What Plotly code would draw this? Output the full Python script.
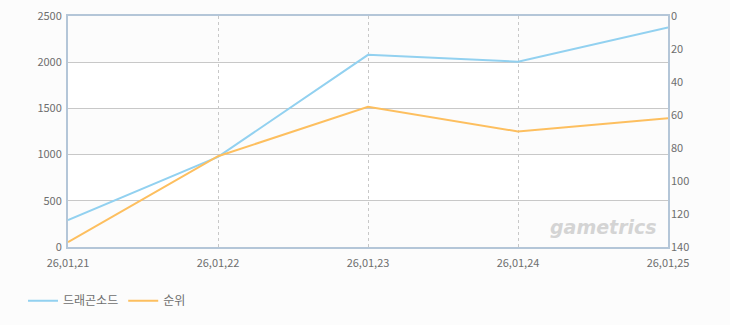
import plotly.graph_objects as go

dates = ["26,01,21", "26,01,22", "26,01,23", "26,01,24", "26,01,25"]
dragon_values = [290, 975, 2080, 2005, 2375]
rank_values = [137, 85, 55, 70, 62]
left_ticks = [0, 500, 1000, 1500, 2000, 2500]
right_ticks = [0, 20, 40, 60, 80, 100, 120, 140]

x_idx = list(range(len(dates)))

fig = go.Figure()
fig.add_trace(go.Scatter(x=x_idx, y=dragon_values, mode="lines", name="드래곤소드",
                         line=dict(color="#92d1f0", width=2), yaxis="y"))
fig.add_trace(go.Scatter(x=x_idx, y=rank_values, mode="lines", name="순위",
                         line=dict(color="#fdbf5f", width=2), yaxis="y2"))

# alternating white bands
shapes = []
for i in range(len(left_ticks) - 1):
    if i % 2 == 1:
        shapes.append(dict(type="rect", xref="paper", yref="y", x0=0, x1=1,
                           y0=left_ticks[i], y1=left_ticks[i + 1],
                           fillcolor="#ffffff", line=dict(width=0), layer="below"))

axis_font = dict(family="Noto Sans CJK KR, DejaVu Sans", size=11, color="#6e6e6e")

fig.update_layout(
    width=730, height=325,
    margin=dict(l=68, r=62, t=16, b=78, autoexpand=False),
    paper_bgcolor="#fcfcfc", plot_bgcolor="#fcfcfc",
    shapes=shapes,
    showlegend=True,
    legend=dict(orientation="h", x=-0.075, y=-0.17, xanchor="left", yanchor="top",
                font=dict(family="Noto Sans CJK KR", size=12, color="#6e6e6e"),
                bgcolor="rgba(0,0,0,0)"),
    xaxis=dict(range=[0, len(dates) - 1], tickvals=x_idx, ticktext=dates,
               showgrid=True, gridcolor="#c8c8c8", griddash="3px,3px", gridwidth=1,
               showline=True, linecolor="#b4c6d8", linewidth=2, mirror=True,
               ticks="", tickfont=axis_font, zeroline=False, ticklabelstandoff=5),
    yaxis=dict(range=[0, 2500], tickvals=left_ticks, showgrid=True, gridcolor="#c8c8c8",
               showline=True, linecolor="#b4c6d8", linewidth=2, mirror=True,
               ticks="", tickfont=axis_font, zeroline=False, ticklabelstandoff=2),
    yaxis2=dict(range=[140, 0], tickvals=right_ticks, overlaying="y", side="right",
                showgrid=False, ticks="", tickfont=axis_font, zeroline=False,
                ticklabelstandoff=2),
    annotations=[dict(text="<b><i>gametrics</i></b>", xref="paper", yref="paper",
                      x=0.985, y=0.03, xanchor="right", yanchor="bottom", showarrow=False,
                      font=dict(family="DejaVu Sans", size=19, color="#d4d4d4"))],
    hovermode=False,
)

fig.write_html("out.html")
